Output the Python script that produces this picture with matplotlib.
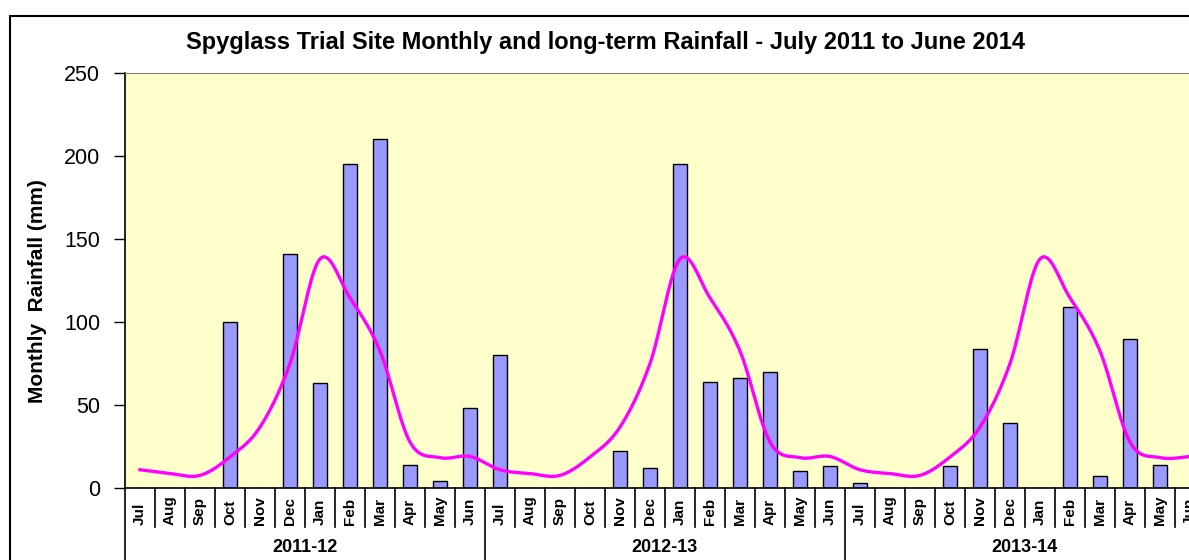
import numpy as np
import matplotlib
matplotlib.use("Agg")
import matplotlib.pyplot as plt
from matplotlib.transforms import blended_transform_factory
from matplotlib.patches import Rectangle

plt.rcParams['font.family'] = ['Liberation Sans', 'DejaVu Sans']

months = ["Jul", "Aug", "Sep", "Oct", "Nov", "Dec",
          "Jan", "Feb", "Mar", "Apr", "May", "Jun"]
seasons = ["2011-12", "2012-13", "2013-14"]

# monthly rainfall (mm), Jul 2011 .. Jun 2014
rain_2011_12 = [0, 0, 0, 100, 0, 141, 63, 195, 210, 14, 4, 48]
rain_2012_13 = [80, 0, 0, 0, 22, 12, 195, 64, 66, 70, 10, 13]
rain_2013_14 = [3, 0, 0, 13, 84, 39, 0, 109, 7, 90, 14, 0]

# long-term monthly average (mm), Jul .. Jun
long_term = [11, 8.7, 7.6, 18.7, 36.7, 75, 138, 114.5, 82.5, 27.7, 18.3, 19]

rain = np.array(rain_2011_12 + rain_2012_13 + rain_2013_14, dtype=float)
lt = np.array(long_term * len(seasons), dtype=float)
x = np.arange(len(rain))


def smooth(xs, ys, n=20):
    """Catmull-Rom curve through the points (like Excel's smoothed line)"""
    px = np.concatenate([[xs[0]], xs, [xs[-1]]])
    py = np.concatenate([[ys[0]], ys, [ys[-1]]])
    t = np.linspace(0, 1, n, endpoint=False)
    outx, outy = [], []
    for i in range(1, len(px) - 2):
        for p, out in ((px, outx), (py, outy)):
            p0, p1, p2, p3 = p[i - 1], p[i], p[i + 1], p[i + 2]
            out.extend(0.5 * (2 * p1 + (-p0 + p2) * t
                              + (2 * p0 - 5 * p1 + 4 * p2 - p3) * t ** 2
                              + (-p0 + 3 * p1 - 3 * p2 + p3) * t ** 3))
    outx.append(xs[-1])
    outy.append(ys[-1])
    return np.array(outx), np.array(outy)


W, H = 1189, 560
fig = plt.figure(figsize=(W / 100, H / 100), dpi=100)

# outer chart frame (cut by the image edge on the right and bottom)
fig.patches.append(Rectangle((10 / W, -0.2), 1.5, 1.2 - 16 / H,
                             transform=fig.transFigure, fill=False,
                             edgecolor="black", lw=1.5))

ax = fig.add_axes([125 / W, (H - 488) / H, 1080 / W, 415 / H])
ax.set_facecolor("#FFFFCC")

ax.bar(x, rain, width=0.45, color="#9999FF", edgecolor="black", lw=1, zorder=2)
sx, sy = smooth(x, lt)
ax.plot(sx, sy, color="#FF00FF", lw=2.4, zorder=3)

ax.set_xlim(-0.5, len(rain) - 0.5)
ax.set_ylim(0, 250)
ax.set_yticks(np.arange(0, 251, 50))
ax.tick_params(axis="y", direction="out", length=8, width=1, labelsize=15.5, pad=10)
ax.set_xticks([])

ax.spines["right"].set_visible(False)
ax.spines["top"].set_color("#808080")
ax.spines["left"].set_linewidth(1.2)
ax.spines["bottom"].set_linewidth(1.2)

trans = blended_transform_factory(ax.transData, ax.transAxes)
y_sep = -39 / 415
y_grp = -100 / 415
for i in range(len(rain) + 1):
    b = i - 0.5
    y_end = y_grp if i % 12 == 0 else y_sep
    ax.plot([b, b], [0, y_end], color="black", lw=1.2, transform=trans,
            clip_on=False)
    if i < len(rain):
        ax.text(i, y_sep + 0.004, months[i % 12], rotation=90, ha="center",
                va="bottom", fontsize=11, fontweight="bold", transform=trans)

for k, name in enumerate(seasons):
    ax.text(12 * k + 5.5, -60 / 415, name, ha="center", va="center",
            fontsize=13, fontweight="bold", transform=trans)

fig.text(605 / W, 1 - 42 / H,
         "Spyglass Trial Site Monthly and long-term Rainfall - July 2011 to June 2014",
         ha="center", va="center", fontsize=17, fontweight="bold")
fig.text(38 / W, 1 - 291 / H, "Monthly  Rainfall (mm)", rotation=90,
         ha="center", va="center", fontsize=15, fontweight="bold")

fig.savefig("out.png", dpi=100)
